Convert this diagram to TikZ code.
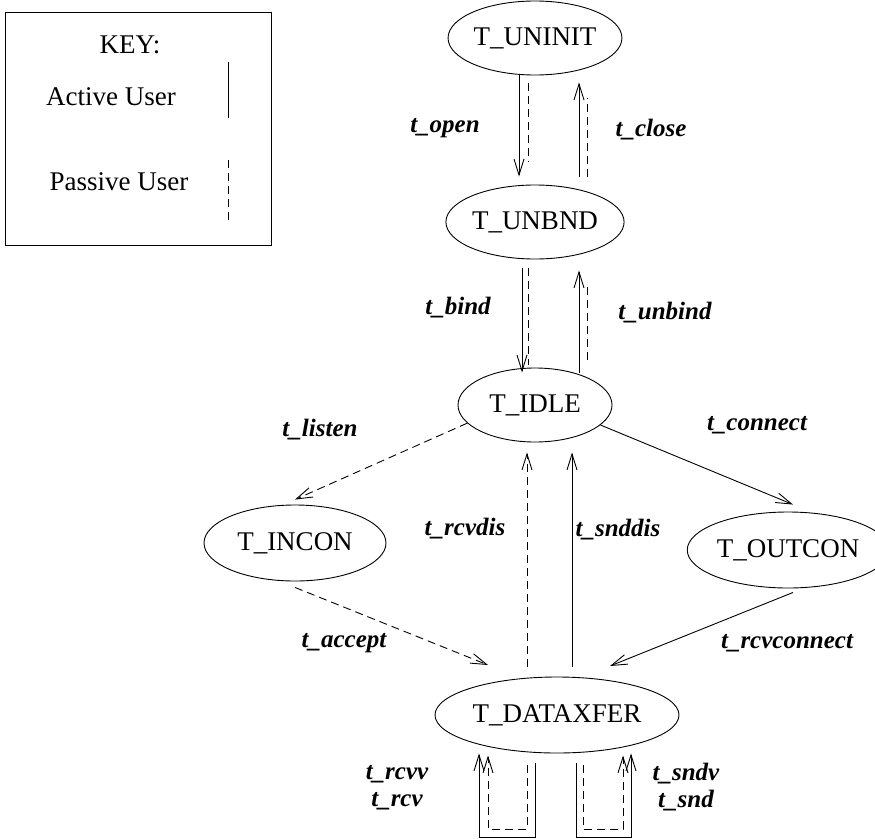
\documentclass[tikz,border=0pt]{standalone}
\usepackage{fontspec}
\setmainfont{Liberation Serif}
\usetikzlibrary{shapes.geometric,arrows.meta}

\tikzset{
	state/.style={ellipse,draw,inner sep=0pt,minimum width=154pt,minimum height=74pt},
	act/.style={-{Straight Barb[length=16pt,width=10pt]}},
	pas/.style={dash pattern=on 8pt off 5pt},
	trans/.style={inner sep=1pt,font=\fontsize{25}{30}\selectfont\bfseries\itshape}
}

\begin{document}
\begin{tikzpicture}[x=1pt,y=-1pt,line width=0.9pt,font=\fontsize{27}{32}\selectfont]
	\useasboundingbox (0,0) rectangle (875,838);
	
	% key
	\draw (5,12) rectangle (271,245);
	\node (keytitle) at (130,45) {KEY:};
	\node (keyact) at (111,97) {Active User};
	\node (keypas) at (119,182) {Passive User};
	\draw (228,62) -- (228,118);
	\draw[pas] (228,160) -- (228,223);
	
	% states
	\node[state] (uninit) at (535,38) {T\_UNINIT};
	\node[state] (unbnd) at (535,222) {T\_UNBND};
	\node[state] (idle) at (535,405) {T\_IDLE};
	\node[state,minimum width=182pt,minimum height=76pt] (incon) at (295,543) {T\_INCON};
	\node[state,minimum width=170pt,minimum height=76pt] (outcon) at (788,550) {T\_OUTCON};
	\node[state,minimum width=244pt,minimum height=76pt] (dataxfer) at (557,715) {T\_DATAXFER};
	
	\coordinate (lisin) at ([yshift=5pt]incon.north);
	\coordinate (conin) at ([xshift=5pt,yshift=7pt]outcon.north);
	\coordinate (accin) at ([xshift=-69pt,yshift=50pt]dataxfer.center);
	\coordinate (rconin) at ([xshift=53pt,yshift=49pt]dataxfer.center);
	
	% t_open / t_close
	\draw[act,shorten >=8pt] ([xshift=-16pt]uninit.south) -- ([xshift=-16pt]unbnd.north);
	\draw[pas,shorten <=8pt,shorten >=23pt] ([xshift=-7pt]uninit.south) -- ([xshift=-7pt]unbnd.north);
	\draw[act,shorten <=8pt,shorten >=7pt] ([xshift=44pt]unbnd.north) -- ([xshift=44pt]uninit.south);
	\draw[pas,shorten <=8pt,shorten >=23pt] ([xshift=52pt]unbnd.north) -- ([xshift=52pt]uninit.south);
	
	% t_bind / t_unbind
	\draw[act,shorten <=9pt,shorten >=-5pt] ([xshift=-13pt]unbnd.south) -- ([xshift=-13pt]idle.north);
	\draw[pas,shorten <=9pt,shorten >=3pt] ([xshift=-7pt]unbnd.south) -- ([xshift=-7pt]idle.north);
	\draw[act,shorten <=-5pt,shorten >=11pt] ([xshift=44pt]idle.north) -- ([xshift=44pt]unbnd.south);
	\draw[pas,shorten <=8pt,shorten >=24pt] ([xshift=52pt]idle.north) -- ([xshift=52pt]unbnd.south);
	
	% listen, connect
	\draw[pas,act] (idle.195) -- (lisin);
	\draw[act] (idle.343) -- (conin);
	
	% accept, rcvconnect
	\draw[pas,act] ([yshift=-6pt]incon.south) -- (accin);
	\draw[act] ([xshift=5pt,yshift=-4pt]outcon.south) -- (rconin);
	
	% disconnects
	\draw[pas,act,shorten <=10pt,shorten >=10pt] ([xshift=-30pt]dataxfer.north) -- ([xshift=-8pt]idle.south);
	\draw[act,shorten <=10pt,shorten >=10pt] ([xshift=15pt]dataxfer.north) -- ([xshift=37pt]idle.south);
	
	% data loops
	\draw[act] ([xshift=-22pt,yshift=-10pt]dataxfer.south) -- ++(0,74) -| ([xshift=-78pt]dataxfer.south);
	\draw[pas,act] ([xshift=-30pt,yshift=-12pt]dataxfer.south) -- ++(0,64) -| ([xshift=-69pt,yshift=-2pt]dataxfer.south);
	\draw[act] ([xshift=19pt,yshift=-10pt]dataxfer.south) -- ++(0,74) -| ([xshift=74pt]dataxfer.south);
	\draw[pas,act] ([xshift=26pt,yshift=-12pt]dataxfer.south) -- ++(0,64) -| ([xshift=66pt,yshift=-2pt]dataxfer.south);
	
	% labels
	\node[trans] (lopen) at (445,128) {t\_open};
	\node[trans] (lclose) at (651,130) {t\_close};
	\node[trans] (lbind) at (458,308) {t\_bind};
	\node[trans] (lunbind) at (665,313) {t\_unbind};
	\node[trans] (llisten) at (320,430) {t\_listen};
	\node[trans] (lconnect) at (757,425) {t\_connect};
	\node[trans] (lrcvdis) at (465,529) {t\_rcvdis};
	\node[trans] (lsnddis) at (618,530) {t\_snddis};
	\node[trans] (laccept) at (344,643) {t\_accept};
	\node[trans] (lrcvconnect) at (787,643) {t\_rcvconnect};
	\node[trans] (lrcvv) at (397,774) {t\_rcvv};
	\node[trans] (lrcv) at (397,801) {t\_rcv};
	\node[trans] (lsndv) at (686,774) {t\_sndv};
	\node[trans] (lsnd) at (686,801) {t\_snd};
\end{tikzpicture}
\end{document}
